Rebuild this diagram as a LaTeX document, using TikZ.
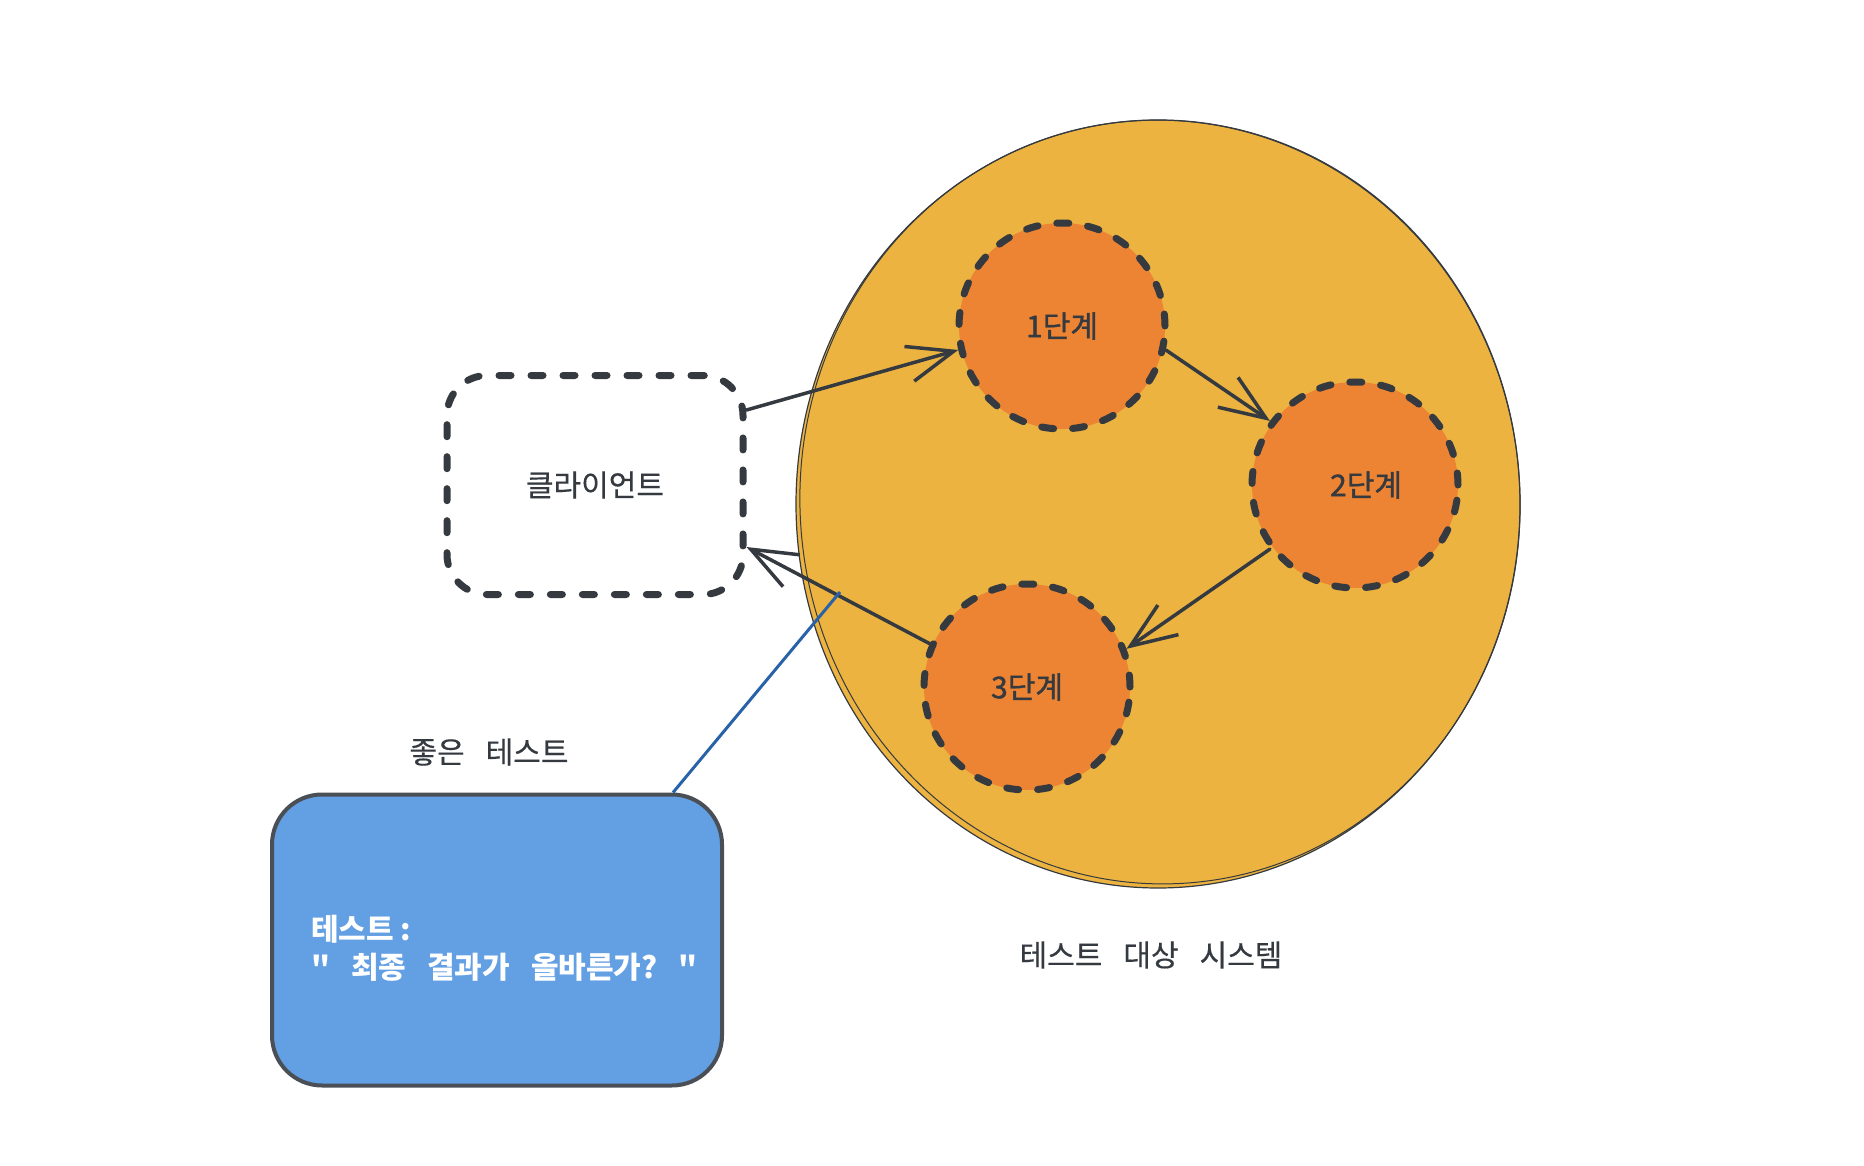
\documentclass[tikz,border=0pt]{standalone}
\usepackage{fontspec}
\setmainfont{Noto Sans CJK KR}[Ligatures=TeXOff]
\newfontfamily\krstep{Noto Sans CJK KR}[FakeBold=1.3, Ligatures=TeXOff]
\newfontfamily\krsoft{Noto Sans CJK KR}[FakeBold=0.4, Ligatures=TeXOff]
\usetikzlibrary{arrows.meta}
\definecolor{ink}{RGB}{52,58,64}
\definecolor{sysfill}{RGB}{236,179,64}
\definecolor{stepfill}{RGB}{236,132,52}
\definecolor{testfill}{RGB}{99,159,227}
\definecolor{testline}{RGB}{74,79,86}
\definecolor{linkblue}{RGB}{42,98,170}
\newcommand\wgap{\hspace{0.7em}}
\begin{document}
\begin{tikzpicture}[x=1pt,y=-1pt,
  txt/.style={font=\krsoft\fontsize{30}{38}\selectfont, text=ink, inner sep=0pt},
  stepcircle/.style={circle, fill=stepfill, draw=ink, line width=7pt, line cap=round,
     dash pattern=on 12pt off 19pt, minimum size=206pt, inner sep=0pt,
     font=\krstep\fontsize{30}{34}\selectfont, text=ink},
  clientbox/.style={rectangle, rounded corners=40pt, draw=ink, line width=7pt, line cap=round,
     dash pattern=on 12pt off 20pt, minimum width=296pt, minimum height=219pt,
     font=\krsoft\fontsize{30}{34}\selectfont, text=ink},
  testbox/.style={rectangle, rounded corners=50pt, draw=testline, fill=testfill, line width=4pt,
     minimum width=450pt, minimum height=291pt},
  conn/.style={draw=ink, line width=3.5pt, line cap=round, line join=round,
     -{Straight Barb[length=46pt, width=36pt, line width=3.5pt]}},
]
\useasboundingbox (0,0) rectangle (1864,1166);

% system under test
\fill[sysfill] (1158,504) ellipse [x radius=362pt, y radius=384pt];
\draw[ink, line width=1.2pt] (1158,504) ellipse [x radius=362pt, y radius=384pt];
\draw[ink, line width=1pt, rotate around={4:(1160,502)}] (1160,502) ellipse [x radius=360pt, y radius=382pt];

% steps
\node[stepcircle] (s1) at (1062,326) {1단계};
\node[stepcircle] (s2) at (1355,485) {\hspace{22pt}2단계};
\node[stepcircle] (s3) at (1027,687) {3단계};

% client
\node[clientbox] (client) at (595,485) {클라이언트};

% arrows
\draw[conn] ([yshift=75pt]client.east) -- (s1.193);
\draw[conn] (s1.-13) -- (s2.143);
\draw[conn] (s2.217) -- (s3.21);
\draw[conn] (s3.156) -- ([yshift=-62pt]client.east);

% test box
\node[testbox] (tb) at (497,940) {};
\coordinate (linkend) at (840,592);
\draw[linkblue, line width=3pt] ([xshift=176pt]tb.north) -- (linkend);
\node[txt, text=white, font=\fontsize{30}{38}\selectfont\bfseries, anchor=west, align=left] (tbtext) at (311,948)
  {테스트 :\\"\wgap 최종\wgap 결과가\wgap 올바른가?\wgap "};

% labels
\node[txt] (goodlabel) at (489,752) {좋은\wgap 테스트};
\node[txt] (syslabel) at (1151,955) {테스트\wgap 대상\wgap 시스템};
\end{tikzpicture}
\end{document}
